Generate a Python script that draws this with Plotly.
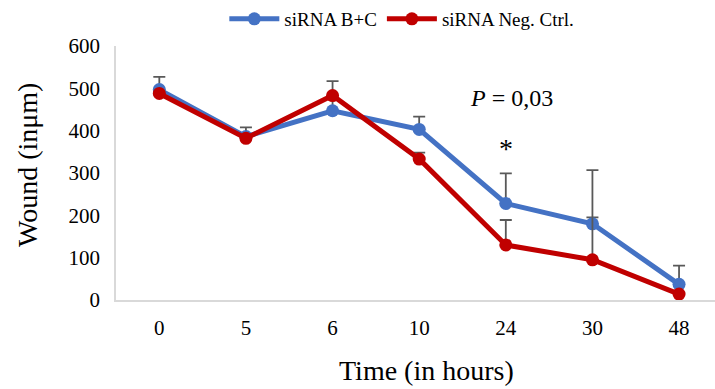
import plotly.graph_objects as go

categories = ["0", "5", "6", "10", "24", "30", "48"]
blue_vals = [497, 386, 447, 403, 228, 180, 37]
blue_err = [30, 22, 70, 30, 71, 15, 44]
red_vals = [488, 382, 483, 333, 130, 95, 14]
red_err = [0, 0, 0, 15, 59, 212, 0]
zeros = [0] * 7

FONT = "Liberation Serif"
ERR_COLOR = "#595959"

fig = go.Figure()
fig.add_trace(go.Scatter(
    x=categories, y=blue_vals, name="siRNA B+C", mode="lines+markers",
    line=dict(color="#4472C4", width=5), marker=dict(size=13, color="#4472C4"),
    error_y=dict(type="data", symmetric=False, array=blue_err, arrayminus=zeros,
                 color=ERR_COLOR, thickness=1.8, width=6),
))
fig.add_trace(go.Scatter(
    x=categories, y=red_vals, name="siRNA Neg. Ctrl.", mode="lines+markers",
    line=dict(color="#C00000", width=5), marker=dict(size=13, color="#C00000"),
    error_y=dict(type="data", symmetric=False, array=red_err, arrayminus=zeros,
                 color=ERR_COLOR, thickness=1.8, width=6),
))

fig.add_annotation(x=4.07, y=477, xref="x", yref="y", text="<i>P</i> = 0,03",
                   showarrow=False, font=dict(size=24, color="black"))
fig.add_annotation(x=4, y=357, xref="x", yref="y", text="*",
                   showarrow=False, font=dict(size=28, color="black"))
# axis titles
fig.add_annotation(x=0.519, y=-0.2795, xref="paper", yref="paper", text="Time (in hours)",
                   showarrow=False, xanchor="center", yanchor="middle",
                   font=dict(size=28, color="black"))
fig.add_annotation(x=-0.1469, y=0.5315, xref="paper", yref="paper", text="Wound (inμm)",
                   showarrow=False, xanchor="center", yanchor="middle", textangle=-90,
                   font=dict(size=28, color="black"))

fig.update_layout(
    width=715, height=389,
    margin=dict(l=116, r=0, t=46, b=89, autoexpand=False),
    plot_bgcolor="white", paper_bgcolor="white",
    font=dict(family=FONT, color="black", size=20),
    showlegend=True,
    legend=dict(orientation="h", xref="container", yref="container",
                x=0.562, xanchor="center", y=1.0, yanchor="top",
                font=dict(size=19, color="black"),
                itemwidth=50, tracegroupgap=0),
    xaxis=dict(type="category", range=[-0.5, 6.415], showgrid=False,
               showline=True, linecolor="#d9d9d9", linewidth=1.5, ticks="",
               ticklabelstandoff=8,
               tickfont=dict(size=21, color="black")),
    yaxis=dict(range=[0, 600], dtick=100, showgrid=False, zeroline=False,
               showline=True, linecolor="#d9d9d9", linewidth=1.5, ticks="",
               ticklabelstandoff=10,
               tickfont=dict(size=21, color="black")),
)

fig.write_html("out.html")
